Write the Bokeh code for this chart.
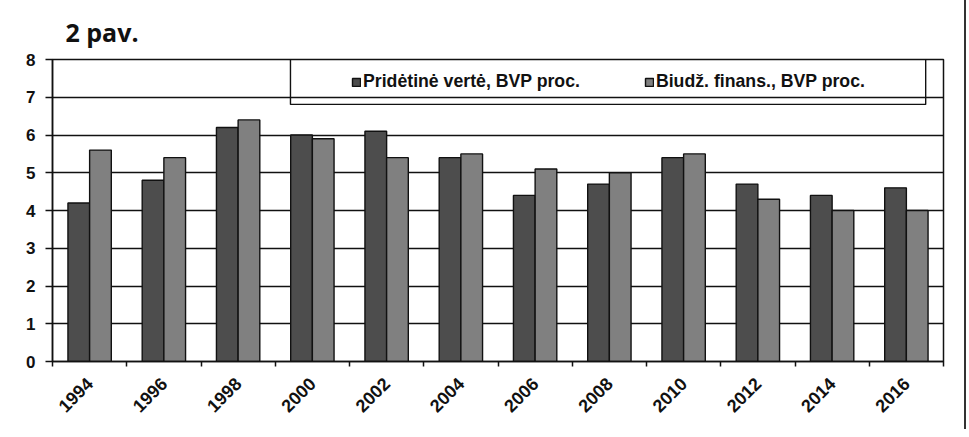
import numpy as np
from bokeh.plotting import figure
from bokeh.models import (Range1d, FixedTicker, ColumnDataSource, Legend, LegendItem,
                          BoxAnnotation, Title)
from bokeh.embed import file_html
from bokeh.resources import INLINE

years = ["1994", "1996", "1998", "2000", "2002", "2004",
         "2006", "2008", "2010", "2012", "2014", "2016"]
added_value = [4.2, 4.8, 6.2, 6.0, 6.1, 5.4, 4.4, 4.7, 5.4, 4.7, 4.4, 4.6]
budget_fin = [5.6, 5.4, 6.4, 5.9, 5.4, 5.5, 5.1, 5.0, 5.5, 4.3, 4.0, 4.0]
series_names = ["Pridėtinė vertė, BVP proc.", "Biudž. finans., BVP proc."]
y_ticks = [0, 1, 2, 3, 4, 5, 6, 7, 8]
title_text = "2 pav."

n = len(years)
centers = np.arange(n) + 0.5
bw = 0.292

src = ColumnDataSource(dict(
    xa=centers - bw / 2, xb=centers + bw / 2,
    a=added_value, b=budget_fin, year=years))

p = figure(width=966, height=429, output_backend="svg", toolbar_location=None,
           x_range=Range1d(0, n), y_range=Range1d(0, 8),
           min_border_left=52, min_border_right=23, min_border_top=59,
           min_border_bottom=68)
p.styles = {"border-right": "2px solid #333333"}

p.title = Title(text=title_text, text_font="Open Sans", text_font_size="25px",
                text_font_style="bold", text_color="#111111", offset=13,
                standoff=22)

ra = p.vbar(x="xa", top="a", width=bw, source=src, fill_color="#4d4d4d",
            line_color="#111111", line_width=1.4)
rb = p.vbar(x="xb", top="b", width=bw, source=src, fill_color="#808080",
            line_color="#111111", line_width=1.4)

# axes
p.xaxis.ticker = FixedTicker(ticks=list(centers), minor_ticks=list(range(n + 1)))
p.xaxis.major_label_overrides = {float(c): y for c, y in zip(centers, years)}
p.xaxis.major_tick_out = 0
p.xaxis.major_tick_in = 0
p.xaxis.minor_tick_out = 5
p.xaxis.minor_tick_in = 0
p.xaxis.major_label_standoff = 14
p.xaxis.major_label_orientation = np.pi / 4
p.xaxis.major_label_text_font = "Liberation Sans"
p.xaxis.major_label_text_font_style = "bold"
p.xaxis.major_label_text_font_size = "18px"
p.xaxis.major_label_text_color = "#111111"
p.xaxis.axis_line_width = 1.5
p.xaxis.axis_line_color = "#111111"
p.xaxis.minor_tick_line_color = "#111111"
p.xaxis.minor_tick_line_width = 1.5

p.yaxis.ticker = FixedTicker(ticks=y_ticks)
p.yaxis.minor_tick_line_color = None
p.yaxis.major_tick_out = 7
p.yaxis.major_tick_in = 0
p.yaxis.major_tick_line_width = 1.5
p.yaxis.major_tick_line_color = "#111111"
p.yaxis.axis_line_width = 1.5
p.yaxis.axis_line_color = "#111111"
p.yaxis.major_label_text_font = "Liberation Sans"
p.yaxis.major_label_text_font_style = "bold"
p.yaxis.major_label_text_font_size = "17px"
p.yaxis.major_label_text_color = "#111111"
p.yaxis.major_label_standoff = 10

p.xgrid.grid_line_color = None
p.ygrid.grid_line_color = "#111111"
p.ygrid.grid_line_width = 1.4
p.ygrid.grid_line_alpha = 1

p.outline_line_color = "#111111"
p.outline_line_width = 1.5
p.background_fill_color = "white"
p.border_fill_color = "white"

# legend frame
p.add_layout(BoxAnnotation(left=3.205, right=11.76, top=8.03, bottom=6.81,
                           fill_alpha=0, line_color="#111111", line_alpha=1,
                           line_width=1.4))

legend = Legend(items=[LegendItem(label=series_names[0], renderers=[ra]),
                       LegendItem(label=series_names[1], renderers=[rb])],
                orientation="horizontal", location=(295, 265),
                glyph_width=10, glyph_height=10, label_standoff=2, spacing=64,
                padding=4, margin=0,
                label_text_font="Liberation Sans", label_text_font_style="bold",
                label_text_font_size="17.7px", label_text_color="#111111",
                border_line_alpha=0, background_fill_alpha=0)
p.add_layout(legend, "center")

open("out.html", "w").write(file_html(p, INLINE))
